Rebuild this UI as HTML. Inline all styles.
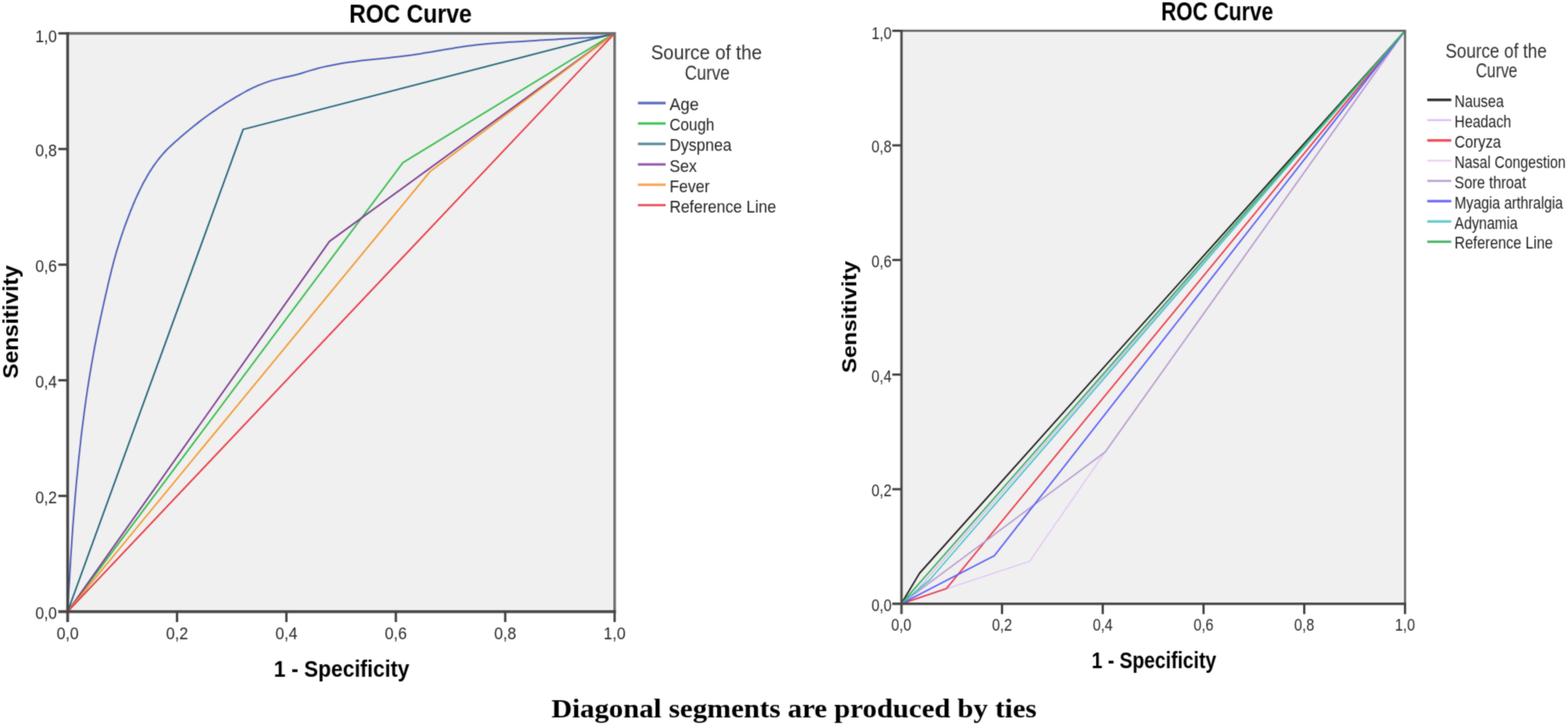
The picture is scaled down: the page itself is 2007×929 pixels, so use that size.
<!DOCTYPE html>
<html><head><meta charset="utf-8"><title>ROC Curves</title>
<style>
html,body{margin:0;padding:0;background:#fff;}
body{width:2007px;height:929px;overflow:hidden;}
svg{display:block;}
text{font-family:"Liberation Sans",Arial,sans-serif;}
.serif{font-family:"Liberation Serif","Times New Roman",serif;}
</style></head><body>
<svg width="2007" height="929" viewBox="0 0 2007 929">
<defs><filter id="bl" filterUnits="userSpaceOnUse" x="-8" y="-8" width="2023" height="945" color-interpolation-filters="sRGB"><feConvolveMatrix order="3" kernelMatrix="1 3 1 3 12 3 1 3 1" divisor="28" edgeMode="duplicate" preserveAlpha="true"/></filter></defs>
<g filter="url(#bl)">
<rect x="-8" y="-8" width="2023" height="945" fill="#fff"/>

<rect x="86.6" y="42.7" width="700.1" height="739.9" fill="#f0f0f0"/>
<rect x="89.2" y="45.3" width="694.9" height="734.7" fill="none" stroke="#fcfcfc" stroke-width="1.3"/>
<polyline points="86.6,782.6 86.9,777.5 87.1,772.4 87.4,767.4 87.7,762.3 88.0,757.2 88.3,752.1 88.6,747.0 88.9,741.9 89.2,736.9 89.5,731.8 89.8,726.7 90.1,721.6 90.4,716.5 90.7,711.4 91.0,706.3 91.4,701.2 91.7,696.1 92.1,691.1 92.4,686.0 92.8,680.9 93.1,675.8 93.5,670.7 93.9,665.6 94.3,660.5 94.6,655.4 95.1,650.3 95.5,645.2 95.9,640.1 96.3,635.0 96.7,630.0 97.2,624.9 97.6,619.8 98.1,614.7 98.6,609.6 99.1,604.5 99.6,599.4 100.1,594.4 100.6,589.3 101.1,584.2 101.7,579.1 102.2,574.0 102.8,569.0 103.3,563.9 103.9,558.8 104.5,553.7 105.1,548.7 105.8,543.6 106.4,538.6 107.1,533.5 107.7,528.4 108.4,523.4 109.1,518.3 109.8,513.3 110.5,508.2 111.3,503.2 112.0,498.1 112.8,493.1 113.6,488.0 114.4,483.0 115.2,478.0 116.1,472.9 116.9,467.9 117.8,462.9 118.7,457.9 119.6,452.8 120.5,447.8 121.4,442.8 122.4,437.8 123.4,432.8 124.4,427.8 125.4,422.8 126.4,417.8 127.5,412.8 128.5,407.8 129.6,402.9 130.7,397.9 131.8,392.9 132.9,387.9 134.0,383.0 135.1,378.0 136.3,373.1 137.4,368.1 138.5,363.2 139.7,358.2 140.9,353.3 142.1,348.4 143.3,343.4 144.6,338.5 145.9,333.6 147.3,328.7 148.6,323.8 150.1,318.9 151.6,314.0 153.1,309.1 154.7,304.2 156.3,299.4 158.0,294.5 159.7,289.7 161.5,284.9 163.3,280.1 165.1,275.3 166.9,270.5 168.9,265.8 170.8,261.0 172.8,256.3 174.9,251.7 177.1,247.0 179.3,242.4 181.6,237.9 183.9,233.3 186.4,228.9 188.9,224.4 191.5,220.1 194.3,215.8 197.1,211.6 200.1,207.5 203.1,203.5 206.3,199.6 209.7,195.7 213.1,192.0 216.7,188.4 220.4,184.9 224.2,181.5 228.1,178.2 231.9,174.8 235.8,171.5 239.7,168.2 243.6,165.0 247.6,161.7 251.6,158.6 255.6,155.4 259.7,152.3 263.8,149.3 267.9,146.3 272.0,143.4 276.2,140.6 280.4,137.7 284.7,135.0 288.9,132.2 293.3,129.5 297.6,126.9 302.0,124.2 306.5,121.6 311.0,119.0 315.5,116.5 320.1,114.1 324.7,111.9 329.4,109.8 334.1,107.9 338.8,106.1 343.6,104.4 348.4,102.9 353.2,101.6 358.1,100.4 362.9,99.3 367.8,98.3 372.7,97.2 377.6,96.0 382.6,94.7 387.5,93.2 392.5,91.6 397.5,90.1 402.5,88.7 407.4,87.3 412.4,86.1 417.4,84.9 422.4,83.9 427.5,82.9 432.5,82.0 437.5,81.1 442.5,80.3 447.5,79.6 452.6,78.9 457.6,78.2 462.6,77.6 467.7,77.0 472.7,76.5 477.8,76.0 482.8,75.4 487.9,74.9 492.9,74.4 498.0,73.9 503.0,73.3 508.1,72.8 513.1,72.2 518.2,71.6 523.2,70.9 528.3,70.2 533.3,69.4 538.4,68.7 543.4,67.8 548.5,67.0 553.5,66.2 558.6,65.3 563.6,64.4 568.7,63.6 573.7,62.7 578.8,61.9 583.8,61.0 588.9,60.3 593.9,59.5 599.0,58.8 604.0,58.2 609.1,57.6 614.1,57.0 619.2,56.5 624.3,56.1 629.3,55.6 634.4,55.2 639.5,54.8 644.6,54.5 649.6,54.1 654.7,53.8 659.8,53.5 664.9,53.2 670.0,52.9 675.1,52.6 680.2,52.3 685.3,52.0 690.4,51.6 695.5,51.3 700.6,51.0 705.7,50.7 710.8,50.4 715.9,50.1 721.0,49.8 726.1,49.5 731.2,49.2 736.3,49.0 741.4,48.7 746.5,48.5 751.5,48.3 756.6,47.9 761.6,47.5 766.7,47.0 771.7,46.3 776.7,45.4 781.7,44.2 786.7,42.7" fill="none" stroke="#4b5db8" stroke-width="2.0" stroke-linejoin="round"/>
<polyline points="86.6,782.6 515.7,208.1 786.7,42.7" fill="none" stroke="#35bd4a" stroke-width="2.0" stroke-linejoin="round"/>
<polyline points="86.6,782.6 311.2,165.6 786.7,42.7" fill="none" stroke="#22657a" stroke-width="2.0" stroke-linejoin="round"/>
<polyline points="86.6,782.6 421.7,308.9 786.7,42.7" fill="none" stroke="#7e3d90" stroke-width="2.0" stroke-linejoin="round"/>
<polyline points="86.6,782.6 550.5,219.5 786.7,42.7" fill="none" stroke="#f39a33" stroke-width="2.0" stroke-linejoin="round"/>
<polyline points="86.6,782.6 786.7,42.7" fill="none" stroke="#e83a45" stroke-width="2.0" stroke-linejoin="round"/>
<line x1="86.6" y1="42.7" x2="786.7" y2="42.7" stroke="#707070" stroke-width="3.4"/>
<line x1="786.7" y1="41.0" x2="786.7" y2="782.6" stroke="#707070" stroke-width="3.4"/>
<line x1="86.6" y1="41.0" x2="86.6" y2="796.0" stroke="#474747" stroke-width="3.6"/>
<line x1="74.6" y1="782.6" x2="788.4000000000001" y2="782.6" stroke="#474747" stroke-width="3.6"/>
<text x="73.0" y="792.0" font-size="22" text-anchor="end" textLength="27.8" lengthAdjust="spacingAndGlyphs" fill="#262626">0,0</text>
<text x="86.6" y="818.0" font-size="22" text-anchor="middle" textLength="28.2" lengthAdjust="spacingAndGlyphs" fill="#262626">0,0</text>
<line x1="74.6" y1="634.6" x2="86.6" y2="634.6" stroke="#424242" stroke-width="3"/>
<line x1="226.6" y1="782.6" x2="226.6" y2="796.0" stroke="#424242" stroke-width="3"/>
<text x="73.0" y="644.0" font-size="22" text-anchor="end" textLength="27.8" lengthAdjust="spacingAndGlyphs" fill="#262626">0,2</text>
<text x="226.6" y="818.0" font-size="22" text-anchor="middle" textLength="28.2" lengthAdjust="spacingAndGlyphs" fill="#262626">0,2</text>
<line x1="74.6" y1="486.6" x2="86.6" y2="486.6" stroke="#424242" stroke-width="3"/>
<line x1="366.6" y1="782.6" x2="366.6" y2="796.0" stroke="#424242" stroke-width="3"/>
<text x="73.0" y="496.0" font-size="22" text-anchor="end" textLength="27.8" lengthAdjust="spacingAndGlyphs" fill="#262626">0,4</text>
<text x="366.6" y="818.0" font-size="22" text-anchor="middle" textLength="28.2" lengthAdjust="spacingAndGlyphs" fill="#262626">0,4</text>
<line x1="74.6" y1="338.7" x2="86.6" y2="338.7" stroke="#424242" stroke-width="3"/>
<line x1="506.7" y1="782.6" x2="506.7" y2="796.0" stroke="#424242" stroke-width="3"/>
<text x="73.0" y="348.1" font-size="22" text-anchor="end" textLength="27.8" lengthAdjust="spacingAndGlyphs" fill="#262626">0,6</text>
<text x="506.7" y="818.0" font-size="22" text-anchor="middle" textLength="28.2" lengthAdjust="spacingAndGlyphs" fill="#262626">0,6</text>
<line x1="74.6" y1="190.7" x2="86.6" y2="190.7" stroke="#424242" stroke-width="3"/>
<line x1="646.7" y1="782.6" x2="646.7" y2="796.0" stroke="#424242" stroke-width="3"/>
<text x="73.0" y="200.1" font-size="22" text-anchor="end" textLength="27.8" lengthAdjust="spacingAndGlyphs" fill="#262626">0,8</text>
<text x="646.7" y="818.0" font-size="22" text-anchor="middle" textLength="28.2" lengthAdjust="spacingAndGlyphs" fill="#262626">0,8</text>
<line x1="74.6" y1="42.7" x2="86.6" y2="42.7" stroke="#424242" stroke-width="3"/>
<line x1="786.7" y1="782.6" x2="786.7" y2="796.0" stroke="#424242" stroke-width="3"/>
<text x="73.0" y="53.7" font-size="22" text-anchor="end" textLength="27.8" lengthAdjust="spacingAndGlyphs" fill="#262626">1,0</text>
<text x="786.7" y="818.0" font-size="22" text-anchor="middle" textLength="28.2" lengthAdjust="spacingAndGlyphs" fill="#262626">1,0</text>
<text x="525.4" y="28.6" font-size="34" text-anchor="middle" font-weight="bold" textLength="157" lengthAdjust="spacingAndGlyphs" fill="#000">ROC Curve</text>
<text x="437.2" y="866.4" font-size="29.8" text-anchor="middle" font-weight="bold" textLength="173.5" lengthAdjust="spacingAndGlyphs" fill="#000">1 - Specificity</text>
<text transform="translate(23.2,411.9) rotate(-90)" x="0" y="0" font-size="27.5" font-weight="bold" text-anchor="middle" textLength="145" lengthAdjust="spacingAndGlyphs" fill="#000">Sensitivity</text>
<text x="904.2" y="76" font-size="26.5" text-anchor="middle" textLength="142" lengthAdjust="spacingAndGlyphs" fill="#303030">Source of the</text>
<text x="905.3" y="101.9" font-size="26.5" text-anchor="middle" textLength="57.5" lengthAdjust="spacingAndGlyphs" fill="#303030">Curve</text>
<line x1="816.5" y1="131.9" x2="852" y2="131.9" stroke="#5869bb" stroke-width="3.2"/>
<text x="856.9" y="141.2" font-size="22" textLength="37.5" lengthAdjust="spacingAndGlyphs" fill="#1e1e1e">Age</text>
<line x1="816.5" y1="158.0" x2="852" y2="158.0" stroke="#3cc050" stroke-width="3.2"/>
<text x="856.9" y="167.3" font-size="22" textLength="57.5" lengthAdjust="spacingAndGlyphs" fill="#1e1e1e">Cough</text>
<line x1="816.5" y1="184.1" x2="852" y2="184.1" stroke="#5a8c9c" stroke-width="3.2"/>
<text x="856.9" y="193.4" font-size="22" textLength="79.5" lengthAdjust="spacingAndGlyphs" fill="#1e1e1e">Dyspnea</text>
<line x1="816.5" y1="210.3" x2="852" y2="210.3" stroke="#9c5db0" stroke-width="3.2"/>
<text x="856.9" y="219.6" font-size="22" textLength="35" lengthAdjust="spacingAndGlyphs" fill="#1e1e1e">Sex</text>
<line x1="816.5" y1="236.4" x2="852" y2="236.4" stroke="#f7a85a" stroke-width="3.2"/>
<text x="856.9" y="245.7" font-size="22" textLength="51.5" lengthAdjust="spacingAndGlyphs" fill="#1e1e1e">Fever</text>
<line x1="816.5" y1="262.5" x2="852" y2="262.5" stroke="#e95a60" stroke-width="3.2"/>
<text x="856.9" y="271.8" font-size="22" textLength="136.5" lengthAdjust="spacingAndGlyphs" fill="#1e1e1e">Reference Line</text>
<rect x="1153.6" y="39.4" width="644.8000000000002" height="733.2" fill="#f0f0f0"/>
<rect x="1156.2" y="41.6" width="640.0" height="728.6" fill="none" stroke="#f8f8f8" stroke-width="1.2"/>
<polyline points="1153.6,772.6 1177.0,733.5 1798.4,39.4" fill="none" stroke="#1c1c1c" stroke-width="1.9" stroke-linejoin="round"/>
<polyline points="1153.6,772.6 1172.0,757.0 1798.4,39.4" fill="none" stroke="#d8bcf0" stroke-width="1.6" stroke-linejoin="round"/>
<polyline points="1153.6,772.6 1317.9,718.2 1414.5,578.5 1798.4,39.4" fill="none" stroke="#e4c6f6" stroke-width="1.6" stroke-linejoin="round"/>
<polyline points="1153.6,772.6 1211.4,753.2 1798.4,39.4" fill="none" stroke="#ec3a48" stroke-width="1.9" stroke-linejoin="round"/>
<polyline points="1153.6,772.6 1414.5,578.5 1798.4,39.4" fill="none" stroke="#b89cd0" stroke-width="1.8" stroke-linejoin="round"/>
<polyline points="1153.6,772.6 1272.7,711.2 1798.4,39.4" fill="none" stroke="#5e5ef8" stroke-width="1.9" stroke-linejoin="round"/>
<polyline points="1153.6,772.6 1190.0,742.0 1798.4,39.4" fill="none" stroke="#4cc4c8" stroke-width="1.9" stroke-linejoin="round"/>
<polyline points="1153.6,772.6 1798.4,39.4" fill="none" stroke="#3aae5c" stroke-width="1.9" stroke-linejoin="round"/>
<line x1="1153.6" y1="39.4" x2="1798.4" y2="39.4" stroke="#686868" stroke-width="2.8"/>
<line x1="1798.4" y1="38.0" x2="1798.4" y2="772.6" stroke="#686868" stroke-width="2.8"/>
<line x1="1153.8999999999999" y1="38.0" x2="1153.8999999999999" y2="785.8000000000001" stroke="#4a4a4a" stroke-width="3.1"/>
<line x1="1142.1" y1="772.6" x2="1799.8000000000002" y2="772.6" stroke="#4a4a4a" stroke-width="3.2"/>
<text x="1141.2" y="781.8" font-size="21.8" text-anchor="end" textLength="25.6" lengthAdjust="spacingAndGlyphs" fill="#262626">0,0</text>
<text x="1153.6" y="807.0" font-size="21.8" text-anchor="middle" textLength="25.6" lengthAdjust="spacingAndGlyphs" fill="#262626">0,0</text>
<line x1="1142.1" y1="626.0" x2="1153.6" y2="626.0" stroke="#3c3c3c" stroke-width="2.8"/>
<line x1="1282.6" y1="772.6" x2="1282.6" y2="785.8000000000001" stroke="#3c3c3c" stroke-width="2.8"/>
<text x="1141.2" y="635.2" font-size="21.8" text-anchor="end" textLength="25.6" lengthAdjust="spacingAndGlyphs" fill="#262626">0,2</text>
<text x="1282.6" y="807.0" font-size="21.8" text-anchor="middle" textLength="25.6" lengthAdjust="spacingAndGlyphs" fill="#262626">0,2</text>
<line x1="1142.1" y1="479.3" x2="1153.6" y2="479.3" stroke="#3c3c3c" stroke-width="2.8"/>
<line x1="1411.5" y1="772.6" x2="1411.5" y2="785.8000000000001" stroke="#3c3c3c" stroke-width="2.8"/>
<text x="1141.2" y="488.5" font-size="21.8" text-anchor="end" textLength="25.6" lengthAdjust="spacingAndGlyphs" fill="#262626">0,4</text>
<text x="1411.5" y="807.0" font-size="21.8" text-anchor="middle" textLength="25.6" lengthAdjust="spacingAndGlyphs" fill="#262626">0,4</text>
<line x1="1142.1" y1="332.7" x2="1153.6" y2="332.7" stroke="#3c3c3c" stroke-width="2.8"/>
<line x1="1540.5" y1="772.6" x2="1540.5" y2="785.8000000000001" stroke="#3c3c3c" stroke-width="2.8"/>
<text x="1141.2" y="341.9" font-size="21.8" text-anchor="end" textLength="25.6" lengthAdjust="spacingAndGlyphs" fill="#262626">0,6</text>
<text x="1540.5" y="807.0" font-size="21.8" text-anchor="middle" textLength="25.6" lengthAdjust="spacingAndGlyphs" fill="#262626">0,6</text>
<line x1="1142.1" y1="186.0" x2="1153.6" y2="186.0" stroke="#3c3c3c" stroke-width="2.8"/>
<line x1="1669.4" y1="772.6" x2="1669.4" y2="785.8000000000001" stroke="#3c3c3c" stroke-width="2.8"/>
<text x="1141.2" y="195.2" font-size="21.8" text-anchor="end" textLength="25.6" lengthAdjust="spacingAndGlyphs" fill="#262626">0,8</text>
<text x="1669.4" y="807.0" font-size="21.8" text-anchor="middle" textLength="25.6" lengthAdjust="spacingAndGlyphs" fill="#262626">0,8</text>
<line x1="1142.1" y1="39.4" x2="1153.6" y2="39.4" stroke="#3c3c3c" stroke-width="2.8"/>
<line x1="1798.4" y1="772.6" x2="1798.4" y2="785.8000000000001" stroke="#3c3c3c" stroke-width="2.8"/>
<text x="1141.2" y="50.2" font-size="21.8" text-anchor="end" textLength="25.6" lengthAdjust="spacingAndGlyphs" fill="#262626">1,0</text>
<text x="1798.4" y="807.0" font-size="21.8" text-anchor="middle" textLength="25.6" lengthAdjust="spacingAndGlyphs" fill="#262626">1,0</text>
<text x="1557.9" y="26.0" font-size="32.5" text-anchor="middle" font-weight="bold" textLength="143.5" lengthAdjust="spacingAndGlyphs" fill="#000">ROC Curve</text>
<text x="1477" y="855" font-size="29" text-anchor="middle" font-weight="bold" textLength="159.5" lengthAdjust="spacingAndGlyphs" fill="#000">1 - Specificity</text>
<text transform="translate(1096,405.5) rotate(-90)" x="0" y="0" font-size="25.5" font-weight="bold" text-anchor="middle" textLength="143.5" lengthAdjust="spacingAndGlyphs" fill="#000">Sensitivity</text>
<text x="1915" y="74.2" font-size="26.5" text-anchor="middle" textLength="129.5" lengthAdjust="spacingAndGlyphs" fill="#303030">Source of the</text>
<text x="1915.6" y="99.4" font-size="26.5" text-anchor="middle" textLength="53.3" lengthAdjust="spacingAndGlyphs" fill="#303030">Curve</text>
<line x1="1826.8" y1="127.8" x2="1857.6" y2="127.8" stroke="#2a2a2a" stroke-width="3.3"/>
<text x="1861.8" y="136.9" font-size="21.2" textLength="63" lengthAdjust="spacingAndGlyphs" fill="#1e1e1e">Nausea</text>
<line x1="1826.8" y1="153.7" x2="1857.6" y2="153.7" stroke="#d8b8f0" stroke-width="2.2"/>
<text x="1861.8" y="162.8" font-size="21.2" textLength="72.5" lengthAdjust="spacingAndGlyphs" fill="#1e1e1e">Headach</text>
<line x1="1826.8" y1="179.7" x2="1857.6" y2="179.7" stroke="#ee4a55" stroke-width="3.3"/>
<text x="1861.8" y="188.8" font-size="21.2" textLength="59.5" lengthAdjust="spacingAndGlyphs" fill="#1e1e1e">Coryza</text>
<line x1="1826.8" y1="205.6" x2="1857.6" y2="205.6" stroke="#e8ccf8" stroke-width="2.2"/>
<text x="1861.8" y="214.7" font-size="21.2" textLength="142.3" lengthAdjust="spacingAndGlyphs" fill="#1e1e1e">Nasal Congestion</text>
<line x1="1826.8" y1="231.5" x2="1857.6" y2="231.5" stroke="#b8a0d0" stroke-width="2.6"/>
<text x="1861.8" y="240.6" font-size="21.2" textLength="91.5" lengthAdjust="spacingAndGlyphs" fill="#1e1e1e">Sore throat</text>
<line x1="1826.8" y1="257.4" x2="1857.6" y2="257.4" stroke="#6e6ef8" stroke-width="3.3"/>
<text x="1861.8" y="266.6" font-size="21.2" textLength="138.8" lengthAdjust="spacingAndGlyphs" fill="#1e1e1e">Myagia arthralgia</text>
<line x1="1826.8" y1="283.4" x2="1857.6" y2="283.4" stroke="#66cccc" stroke-width="3.3"/>
<text x="1861.8" y="292.5" font-size="21.2" textLength="80.8" lengthAdjust="spacingAndGlyphs" fill="#1e1e1e">Adynamia</text>
<line x1="1826.8" y1="309.3" x2="1857.6" y2="309.3" stroke="#4cb46a" stroke-width="3.1"/>
<text x="1861.8" y="318.4" font-size="21.2" textLength="125.8" lengthAdjust="spacingAndGlyphs" fill="#1e1e1e">Reference Line</text>
<text x="1016.3" y="917.5" font-size="34" text-anchor="middle" font-weight="bold" textLength="621" lengthAdjust="spacingAndGlyphs" class="serif" fill="#000">Diagonal segments are produced by ties</text>
</g>
</svg>
</body></html>
